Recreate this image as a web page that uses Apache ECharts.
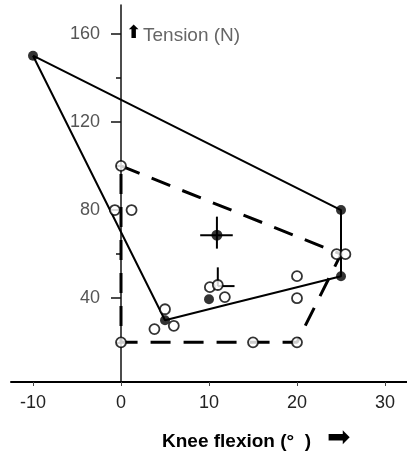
<!DOCTYPE html>
<html><head><meta charset="utf-8">
<script src="https://cdn.jsdelivr.net/npm/echarts@6/dist/echarts.min.js"></script>
<style>html,body{margin:0;padding:0;background:#fff}#c{width:407px;height:454px}</style>
</head><body><div id="c"></div>
<script>
const xTicks = [-10, 0, 10, 20, 30];
const yLabels = [40, 80, 120, 160];
const yMinorTicks = [20, 60, 100, 140];
const solidOutline = [[-10,150],[25,80],[25,50],[20,45],[12,37],[5,30],[-10,150]];
const dashedOutline = [[0,100],[25,60],[20,20],[15,20],[0,20],[0,100]];
const filledPoints = [[-10,150],[25,80],[25,50],[5,30],[10,39.5]];
const openPoints = [[0,100],[24.5,60],[25.5,60],[20,20],[15,20],[0,20],[-0.7,80],[1.2,80],
  [3.8,26],[6,27.5],[5,35],[10.1,45],[11,46],[11.8,40.5],[20,50],[20,40]];
const meanPoints = [[10.9,68.6]];
// [x, y, xLow, xHigh, yLow, yHigh]
const errorBars = [[10.9,68.6,9,12.7,62.5,77],[11,45.5,11,12.9,45.5,54]];

const X_MIN = -12.5, X_MAX = 32.5;
const GRID_LEFT = 11, GRID_RIGHT = 0;
const yAxisOffset = -((0 - X_MIN) / (X_MAX - X_MIN)) * (407 - GRID_LEFT - GRID_RIGHT);

const chart = echarts.init(document.getElementById('c'), null, {renderer:'canvas'});
chart.setOption({
  animation:false,
  backgroundColor:'#fff',
  grid:{left:GRID_LEFT, right:GRID_RIGHT, top:5, bottom:72, containLabel:false, outerBoundsMode:'none'},
  xAxis:{type:'value', min:X_MIN, max:X_MAX,
    axisLine:{lineStyle:{color:'#000', width:2}},
    axisTick:{customValues:xTicks, length:4, lineStyle:{color:'#444'}},
    axisLabel:{customValues:xTicks, margin:12, fontSize:18, color:'#222', fontFamily:'Liberation Sans'},
    splitLine:{show:false}},
  yAxis:[
    {type:'value', min:2, max:173, position:'left', offset:yAxisOffset,
     axisLine:{show:true, onZero:false, lineStyle:{color:'#111', width:1.5}},
     axisTick:{customValues:yLabels, length:10, lineStyle:{color:'#111', width:1.5}},
     axisLabel:{customValues:yLabels, margin:21, fontSize:18, color:'#555', fontFamily:'Liberation Sans'},
     splitLine:{show:false}},
    {type:'value', min:2, max:173, position:'left', offset:yAxisOffset,
     axisLine:{show:false, onZero:false},
     axisTick:{customValues:yMinorTicks, length:5, lineStyle:{color:'#111', width:1.5}},
     axisLabel:{show:false}, splitLine:{show:false}}
  ],
  graphic:[
    {type:'text', left:162, top:432, style:{text:'Knee flexion (°  )', font:'bold 19px "Liberation Sans"', fill:'#000'}},
    {type:'text', left:327, top:425, style:{text:'➡', font:'28px "DejaVu Sans"', fill:'#000'}},
    {type:'text', left:126, top:24, style:{text:'⬆', font:'bold 18px "DejaVu Sans"', fill:'#000'}},
    {type:'text', left:143, top:26, style:{text:'Tension (N)', font:'19px "Liberation Sans"', fill:'#666'}}
  ],
  series:[
    {type:'line', data:solidOutline, symbol:'none', lineStyle:{color:'#000', width:2}, z:2},
    {type:'line', data:dashedOutline, symbol:'none', lineStyle:{color:'#000', width:3, type:[20,13]}, z:2},
    {type:'custom', data:errorBars, encode:{x:0,y:1}, z:3,
     renderItem:function(params, api){
       const xl = api.coord([api.value(2), api.value(1)]);
       const xh = api.coord([api.value(3), api.value(1)]);
       const yl = api.coord([api.value(0), api.value(4)]);
       const yh = api.coord([api.value(0), api.value(5)]);
       return {type:'group', children:[
         {type:'line', shape:{x1:xl[0],y1:xl[1],x2:xh[0],y2:xh[1]}, style:{stroke:'#000', lineWidth:2}},
         {type:'line', shape:{x1:yl[0],y1:yl[1],x2:yh[0],y2:yh[1]}, style:{stroke:'#000', lineWidth:2}}
       ]};
     }},
    {type:'scatter', data:openPoints, symbol:'circle', symbolSize:10,
     itemStyle:{color:'#fff', borderColor:'#000', borderWidth:1.8}, z:4},
    {type:'scatter', data:filledPoints, symbol:'circle', symbolSize:10,
     itemStyle:{color:'#000'}, z:5},
    {type:'scatter', data:meanPoints, symbol:'circle', symbolSize:11,
     itemStyle:{color:'#000'}, z:5}
  ]
});
</script></body></html>
